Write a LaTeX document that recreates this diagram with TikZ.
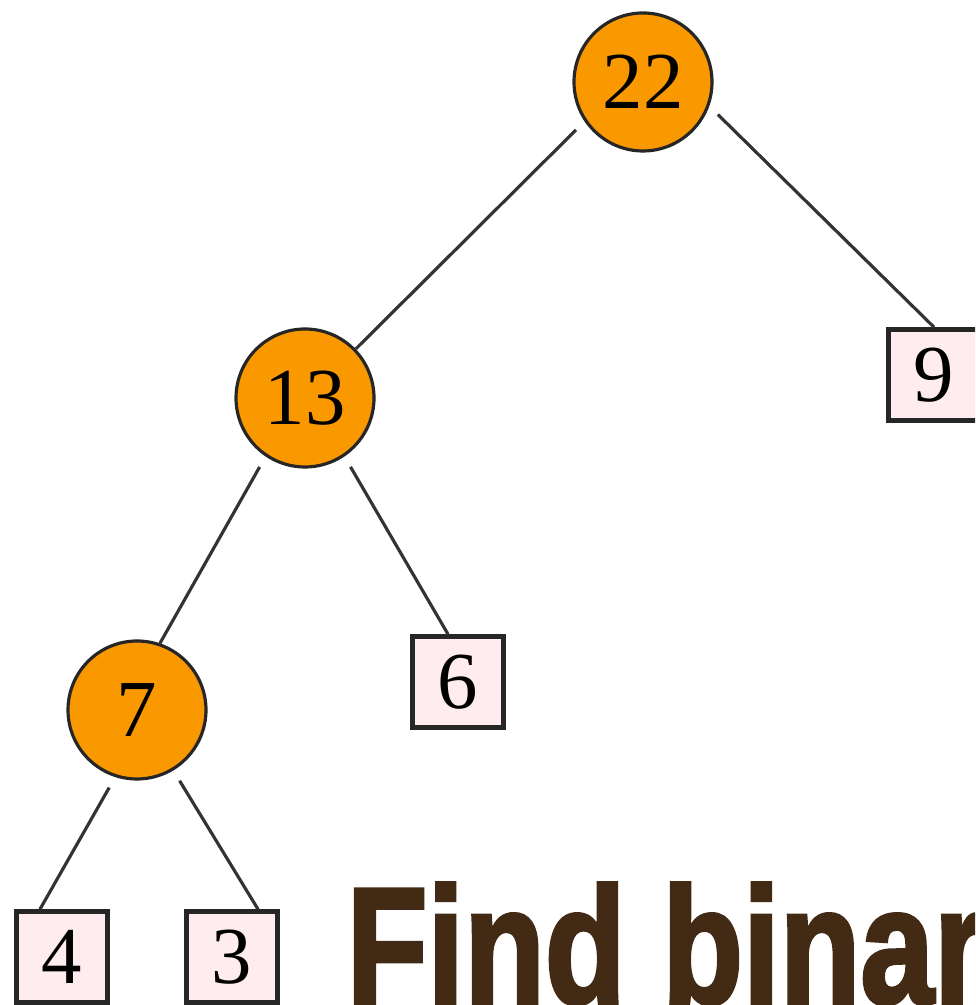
\documentclass[tikz,border=0pt]{standalone}
\usepackage{fontspec}
\setmainfont{Liberation Serif}
\newfontfamily\titlefont[FakeBold=2.5]{Liberation Sans Bold}
\usepackage{tikz}
\usetikzlibrary{positioning}
\usepackage{xcolor}
\definecolor{inner}{RGB}{250, 152, 0}
\definecolor{leaf}{RGB}{255, 236, 238}
\definecolor{bark}{RGB}{66, 42, 20}

\begin{document}
\begin{tikzpicture}[
    font=\fontsize{23}{27}\selectfont,
    sum/.style={circle, draw=black!85, line width=0.9pt, fill=inner, minimum size=1.38cm, inner sep=0pt},
    leafbox/.style={rectangle, draw=black!85, line width=1.3pt, fill=leaf, minimum size=0.91cm, inner sep=0pt},
    edge/.style={draw=black!80, line width=0.9pt, shorten <=1.2mm}
  ]
  \clip (0,0) rectangle (9.75,10.05);
  % Inner nodes carry the sums
  \node[sum] (n22) at (6.43, 9.23) {22};
  \node[sum] (n13) at (3.05, 6.07) {13};
  \node[sum] (n7)  at (1.37, 2.95) {7};

  % Leaves
  \node[leafbox] (b9) at (9.34, 6.30) {9};
  \node[leafbox] (b6) at (4.58, 3.23) {6};
  \node[leafbox] (b4) at (0.62, 0.48) {4};
  \node[leafbox] (b3) at (2.32, 0.48) {3};

  % Branches
  \draw[edge] (n22.214) -- (n13.44);
  \draw[edge] (n22.340) -- (b9.north);
  \draw[edge] (n13.236) -- (n7.71);
  \draw[edge] (n13.304) -- ([xshift=-0.10cm]b6.north);
  \draw[edge] (n7.252) -- ([xshift=-0.22cm]b4.north);
  \draw[edge] (n7.301) -- ([xshift=0.26cm]b3.north);

  % Heading, runs off the right edge
  \node[anchor=base west, inner sep=0pt, text=bark,
        font=\titlefont\fontsize{47}{50}\selectfont] (title) at (3.46, 0.02)
    {\scalebox{0.8}[1]{Find binary}};
\end{tikzpicture}
\end{document}
